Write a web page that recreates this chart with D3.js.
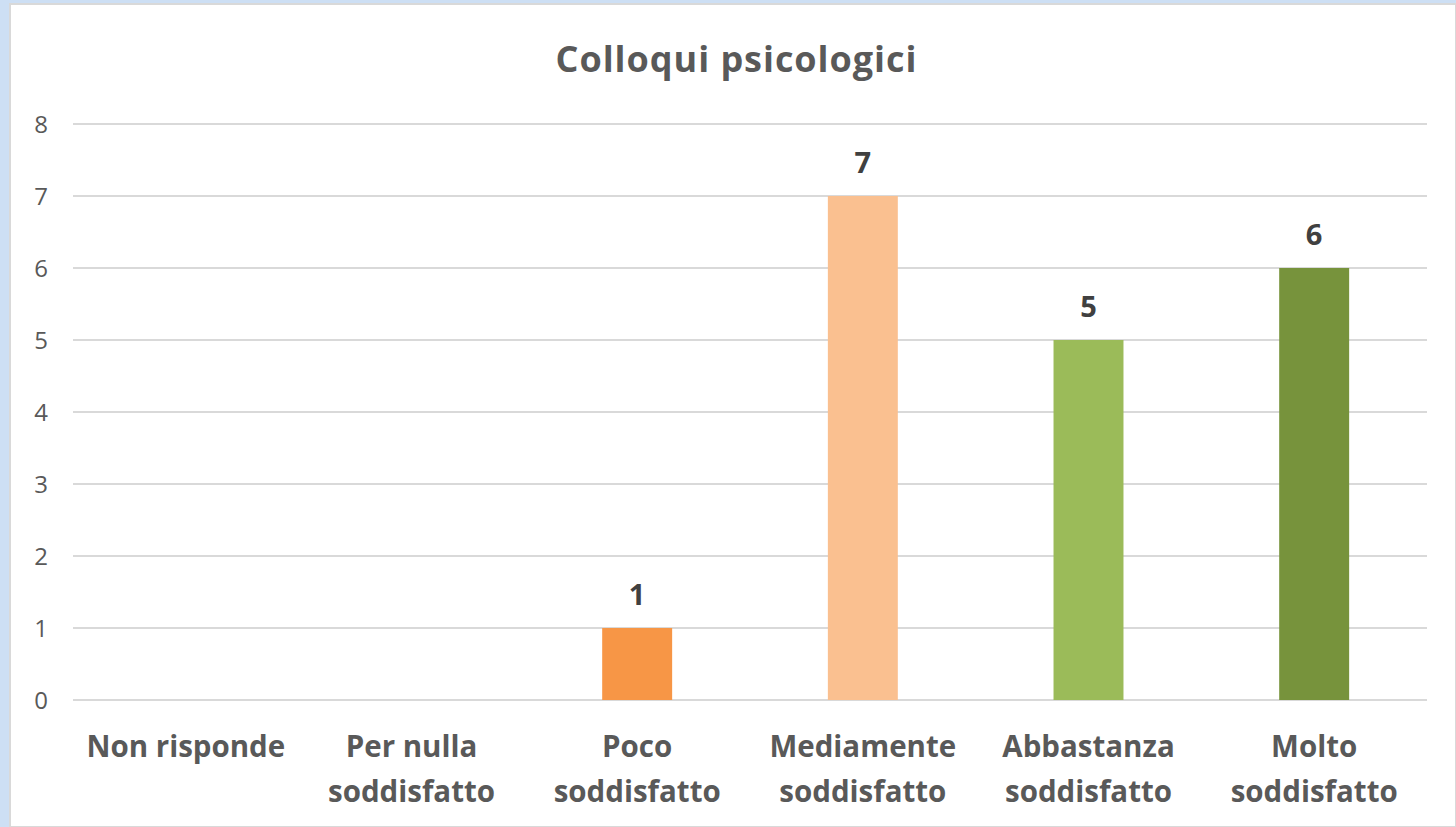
<!DOCTYPE html>
<html>
<head>
<meta charset="utf-8">
<script src="https://cdn.jsdelivr.net/npm/d3@7"></script>
<style>
  body { margin: 0; background: #cddff4; }
  #chart { position: absolute; left: 0; top: 0; }
</style>
</head>
<body>
<div id="chart"></div>
<script>
// data
var categories = [["Non risponde"], ["Per nulla", "soddisfatto"], ["Poco", "soddisfatto"],
                  ["Mediamente", "soddisfatto"], ["Abbastanza", "soddisfatto"], ["Molto", "soddisfatto"]];
var values = [0, 0, 1, 7, 5, 6];
var barColors = ["#4472c4", "#ed7d31", "#f79646", "#fac090", "#9bbb59", "#77933c"];
var yTicks = [0, 1, 2, 3, 4, 5, 6, 7, 8];
var title = "Colloqui psicologici";

var W = 1456, H = 827;
var margin = {top: 124, right: 29, bottom: 127, left: 73},
    width = W - margin.left - margin.right,
    height = H - margin.top - margin.bottom;

var x = d3.scaleBand()
          .domain(d3.range(categories.length))
          .range([0, width])
          .paddingInner(0.69)
          .paddingOuter(0.345);
var y = d3.scaleLinear()
          .domain([0, 8])
          .range([height, 0]);

var svg = d3.select("#chart").append("svg")
    .attr("width", W)
    .attr("height", H);

// frame
svg.append("rect").attr("x", 0).attr("y", 0).attr("width", W).attr("height", H).attr("fill", "#cddff4");
svg.append("rect").attr("x", 10).attr("y", 4).attr("width", W - 10).attr("height", H - 4)
   .attr("fill", "#ffffff").attr("stroke", "#d9d9d9").attr("stroke-width", 2);

svg.append("text")
   .attr("x", 736).attr("y", 72)
   .attr("text-anchor", "middle")
   .attr("font-family", "Open Sans, sans-serif")
   .attr("font-weight", "bold")
   .attr("font-size", "36px")
   .attr("textLength", 361)
   .attr("fill", "#595959")
   .text(title);

var g = svg.append("g")
    .attr("transform", "translate(" + margin.left + "," + margin.top + ")");

// gridlines
g.selectAll(".grid").data(yTicks).enter().append("line")
   .attr("x1", 0).attr("x2", width)
   .attr("y1", function(d) { return y(d); })
   .attr("y2", function(d) { return y(d); })
   .attr("stroke", "#d9d9d9")
   .attr("stroke-width", 2);

// y tick labels
g.selectAll(".ytick").data(yTicks).enter().append("text")
   .attr("x", -25)
   .attr("y", function(d) { return y(d); })
   .attr("dy", "0.36em")
   .attr("text-anchor", "end")
   .attr("font-family", "Open Sans, sans-serif")
   .attr("font-size", "24px")
   .attr("fill", "#595959")
   .text(function(d) { return d; });

// bars
g.selectAll(".bar").data(values).enter().append("rect")
   .attr("x", function(d, i) { return x(i); })
   .attr("y", function(d) { return y(d); })
   .attr("width", x.bandwidth())
   .attr("height", function(d) { return height - y(d); })
   .attr("fill", function(d, i) { return barColors[i]; });

// data labels (only where there is a bar)
g.selectAll(".lbl").data(values).enter().append("text")
   .attr("x", function(d, i) { return x(i) + x.bandwidth() / 2; })
   .attr("y", function(d) { return y(d) - 23; })
   .attr("text-anchor", "middle")
   .attr("font-family", "Open Sans, sans-serif")
   .attr("font-weight", "bold")
   .attr("font-size", "29px")
   .attr("fill", "#404040")
   .text(function(d) { return d > 0 ? d : ""; });

// category labels
var cat = g.selectAll(".cat").data(categories).enter().append("text")
   .attr("transform", function(d, i) { return "translate(" + (x(i) + x.bandwidth() / 2) + "," + (height + 57) + ")"; })
   .attr("text-anchor", "middle")
   .attr("font-family", "Open Sans, sans-serif")
   .attr("font-weight", "bold")
   .attr("font-size", "29.5px")
   .attr("fill", "#595959");
cat.selectAll("tspan").data(function(d) { return d; }).enter().append("tspan")
   .attr("x", 0)
   .attr("dy", function(d, j) { return j === 0 ? 0 : 45; })
   .text(function(d) { return d; });
</script>
</body>
</html>
